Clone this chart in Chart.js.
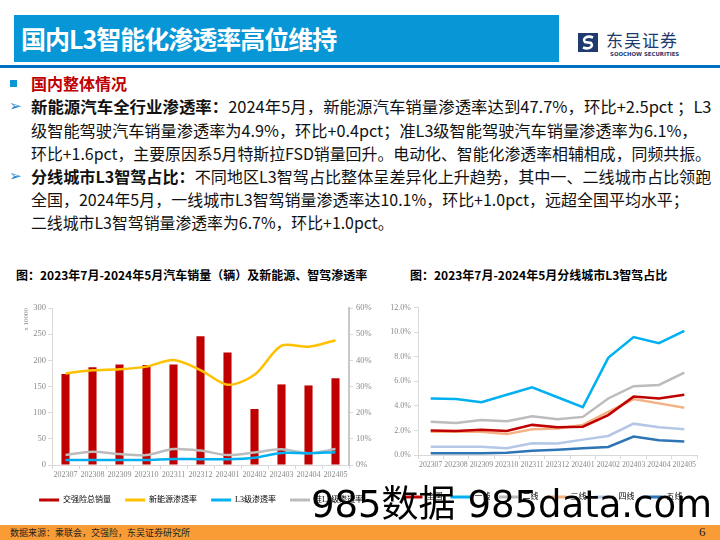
<!DOCTYPE html>
<html lang="zh-CN">
<head>
<meta charset="utf-8">
<script src="https://cdn.jsdelivr.net/npm/chart.js@4.4.1/dist/chart.umd.min.js"></script>
<style>
  html, body { margin: 0; padding: 0; }
  body {
    width: 720px; height: 540px; position: relative; overflow: hidden; background: #fff;
    font-family: "Noto Sans CJK SC", "Noto Sans", sans-serif; color: #111;
  }
  .abs { position: absolute; }
  #titleBar { left: 14px; top: 15px; width: 545px; height: 47px; background: #0796d6; }
  #titleBar span {
    position: absolute; left: 7px; top: 6px; color: #fff; font-size: 25px; line-height: 34px; font-weight: 700;
    letter-spacing: -1px; white-space: nowrap;
  }
  #rule { left: 0; top: 65px; width: 720px; height: 3px; background: #0070c0; }
  #logoText { left: 606px; top: 30px; font-size: 17px; line-height: 20px; color: #1f3a6e; letter-spacing: 1px; white-space: nowrap; }
  #logoSub { left: 610px; top: 51px; font-family: "DejaVu Sans", sans-serif; font-size: 5.4px; line-height: 7px; font-weight: 700; color: #1f3a6e; white-space: nowrap; }
  .line { position: absolute; left: 31px; font-size: 16px; line-height: 23px; white-space: nowrap; transform-origin: 0 50%; }
  .arrow { position: absolute; left: 9px; font-family: "DejaVu Sans", sans-serif; font-size: 15px; line-height: 23px; color: #1e88d0; }
  .ctitle { position: absolute; top: 266px; font-size: 12px; line-height: 17px; font-weight: 700; color: #000; white-space: nowrap; }
  #footer { left: 0; top: 525px; width: 720px; height: 15px; background: #f99c35; }
  #source { left: 10px; top: 526px; font-size: 9px; line-height: 13px; color: #222; white-space: nowrap; }
  #page { left: 699px; top: 524px; font-family: "Liberation Serif", serif; font-size: 13px; line-height: 16px; color: #222; }
  #wm { left: 311px; top: 482px; font-family: "DejaVu Sans", "Noto Sans CJK SC", sans-serif; font-size: 37px; line-height: 46px; color: #000; white-space: nowrap; z-index: 5; }
  canvas { position: absolute; }
</style>
</head>
<body>
<div id="titleBar" class="abs"><span>国内L3智能化渗透率高位维持</span></div>
<svg class="abs" style="left:578px;top:33px" width="20" height="19" viewBox="0 0 20 19">
  <rect width="20" height="19" fill="#1f3a6e"/>
  <path d="M15 4.5 C9 2,4 5.5,7 9 L13 10 C16 13.5,11 17,5 14.5" stroke="#fff" stroke-width="2.6" fill="none"/>
</svg>
<div id="logoText" class="abs">东吴证券</div>
<div id="logoSub" class="abs">SOOCHOW SECURITIES</div>
<div id="rule" class="abs"></div>

<div class="abs" style="left:10px;top:80px;width:7px;height:7px;background:#0796d6"></div>
<div class="line" style="top:72px;color:#c00000;font-weight:700">国内整体情况</div>
<div class="arrow" style="top:95px">➢</div>
<div class="line" data-w="680" style="top:95px"><b>新能源汽车全行业渗透率：</b>2024年5月，新能源汽车销量渗透率达到47.7%，环比+2.5pct ；L3</div>
<div class="line" data-w="666" style="top:119px">级智能驾驶汽车销量渗透率为4.9%，环比+0.4pct；准L3级智能驾驶汽车销量渗透率为6.1%，</div>
<div class="line" data-w="680" style="top:142px">环比+1.6pct，主要原因系5月特斯拉FSD销量回升。电动化、智能化渗透率相辅相成，同频共振。</div>
<div class="arrow" style="top:165px">➢</div>
<div class="line" data-w="680" style="top:165px"><b>分线城市L3智驾占比：</b>不同地区L3智驾占比整体呈差异化上升趋势，其中一、二线城市占比领跑</div>
<div class="line" data-w="658" style="top:188px">全国，2024年5月，一线城市L3智驾销量渗透率达10.1%，环比+1.0pct，远超全国平均水平；</div>
<div class="line" data-w="363" style="top:211px">二线城市L3智驾销量渗透率为6.7%，环比+1.0pct。</div>

<div class="ctitle" style="left:16px">图：2023年7月-2024年5月汽车销量（辆）及新能源、智驾渗透率</div>
<div class="ctitle" style="left:410px">图：2023年7月-2024年5月分线城市L3智驾占比</div>

<canvas id="chartSales" width="402" height="216" style="left:0;top:298px"></canvas>
<canvas id="chartCity" width="316" height="214" style="left:388px;top:297px"></canvas>

<div id="footer" class="abs"></div>
<div id="source" class="abs">数据来源：乘联会，交强险，东吴证券研究所</div>
<div id="page" class="abs">6</div>
<div id="wm" class="abs">985数据 985data.com</div>

<script>
'use strict';

// ── data ────────────────────────────────────────────────────────────────────
const MONTHS    = ['202307','202308','202309','202310','202311','202312','202401','202402','202403','202404','202405'];
const SALES     = [174, 187, 192, 191, 192, 246, 215, 107, 154, 152, 166];        // 万辆
const NEV_RATE  = [35.0, 36.2, 36.6, 37.6, 40.1, 36.3, 30.7, 34.5, 45.6, 45.2, 47.7];
const L3_RATE   = [1.9, 1.9, 1.9, 1.9, 2.3, 2.2, 2.2, 2.8, 4.6, 4.5, 4.9];
const QL3_RATE  = [3.8, 5.1, 4.2, 3.8, 6.1, 5.5, 3.8, 4.8, 6.0, 4.5, 6.1];

const NATION = [2.0, 1.95, 2.05, 1.95, 2.45, 2.25, 2.3, 3.25, 4.75, 4.6, 4.9];
const TIER1  = [4.6, 4.55, 4.3, 4.9, 5.5, 4.7, 3.9, 7.9, 9.6, 9.1, 10.1];
const TIER2  = [2.7, 2.6, 2.85, 2.75, 3.15, 2.9, 3.1, 4.6, 5.6, 5.7, 6.7];
const TIER3  = [1.9, 1.9, 1.9, 1.7, 2.1, 2.15, 2.45, 3.5, 4.55, 4.2, 3.85];
const TIER4  = [0.68, 0.68, 0.68, 0.55, 0.95, 0.93, 1.25, 1.55, 2.55, 2.25, 2.1];
const TIER5  = [0.15, 0.15, 0.15, 0.18, 0.35, 0.43, 0.55, 0.65, 1.5, 1.2, 1.1];

// ── paleta ──────────────────────────────────────────────────────────────────
const C_RED    = '#c00000';
const C_YELLOW = '#ffc000';
const C_BLUE   = '#00b0f0';
const C_GRAY   = '#bcbcbc';
const C_ORANGE = '#f4b183';
const C_LBLUE  = '#b4c7e7';
const C_DBLUE  = '#2e75b6';
const C_TICK   = '#8a8a8a';
const C_AXIS   = '#d9d9d9';

const serif = size => ({ family: '"Liberation Serif", "Noto Sans CJK SC", serif', size });

// fit body lines to the widths seen in the slide
document.querySelectorAll('.line[data-w]').forEach(el => {
    const w = +el.dataset.w;
    el.style.transform = `scaleX(${w / el.scrollWidth})`;
});

function legendOpts(pad, colors) {
    return {
        position: 'bottom',
        labels: {
            boxWidth: 20, boxHeight: 3, padding: pad, color: C_TICK, font: serif(8),
            generateLabels: chart => chart.data.datasets.map((ds, i) => ({
                text: ds.label, fillStyle: colors[i], strokeStyle: colors[i], lineWidth: 0,
                hidden: false, datasetIndex: i,
            })),
        },
    };
}

function fixW(w) { return s => { s.width = w; }; }
function fixH(h) { return s => { s.height = h; }; }

// ── 汽车销量 + 渗透率 ───────────────────────────────────────────────────────
new Chart(document.getElementById('chartSales'), {
    type: 'bar',
    data: {
        labels: MONTHS,
        datasets: [
            { label: '交强险总销量', data: SALES, backgroundColor: C_RED, categoryPercentage: 1, barPercentage: 0.3, order: 2 },
            { label: '新能源渗透率', data: NEV_RATE, type: 'line', yAxisID: 'y1', borderColor: C_YELLOW, borderWidth: 2.5, pointRadius: 0, tension: 0.3, order: 1 },
            { label: 'L3级渗透率', data: L3_RATE, type: 'line', yAxisID: 'y1', borderColor: C_BLUE, borderWidth: 2.5, pointRadius: 0, tension: 0.3, order: 0 },
            { label: '准L3级渗透率', data: QL3_RATE, type: 'line', yAxisID: 'y1', borderColor: C_GRAY, borderWidth: 2.5, pointRadius: 0, tension: 0.3, order: 1 },
        ],
    },
    options: {
        responsive: false,
        animation: false,
        layout: { padding: { top: 10, left: 0, right: 0, bottom: 0 } },
        plugins: {
            legend: legendOpts(14, [C_RED, C_YELLOW, C_BLUE, C_GRAY]),
            tooltip: { enabled: false },
        },
        scales: {
            x: {
                afterFit: fixH(17),
                grid: { drawOnChartArea: false, tickLength: 4, color: C_AXIS },
                border: { color: C_AXIS },
                ticks: { color: C_TICK, font: serif(8), padding: 1, maxRotation: 0, autoSkip: false },
            },
            y: {
                min: 0, max: 300,
                afterFit: fixW(52),
                grid: { drawOnChartArea: false, tickLength: 4, color: C_AXIS },
                border: { color: C_AXIS },
                ticks: { stepSize: 50, color: C_TICK, font: serif(8.5), padding: 2 },
                title: { display: true, text: 'x 10000', align: 'end', color: C_TICK, font: serif(7), padding: { top: 22, bottom: 0 } },
            },
            y1: {
                position: 'right',
                min: 0, max: 60,
                afterFit: fixW(53),
                grid: { drawOnChartArea: false, tickLength: 4, color: C_AXIS },
                border: { color: '#c8c8c8', width: 2 },
                ticks: { stepSize: 10, color: C_TICK, font: serif(8.5), padding: 3, callback: v => v + '%' },
            },
        },
    },
});

// ── 分线城市 L3 智驾占比 ────────────────────────────────────────────────────
const cityColors = [C_RED, C_BLUE, C_GRAY, C_ORANGE, C_LBLUE, C_DBLUE];
const citySeries = [
    ['全国', NATION], ['一线', TIER1], ['二线', TIER2],
    ['三线', TIER3], ['四线', TIER4], ['五线', TIER5],
];

new Chart(document.getElementById('chartCity'), {
    type: 'line',
    data: {
        labels: MONTHS,
        datasets: citySeries.map(([label, data], i) => ({
            label, data, borderColor: cityColors[i], borderWidth: 2.5, pointRadius: 0, tension: 0,
        })),
    },
    options: {
        responsive: false,
        animation: false,
        layout: { padding: { top: 10.5, left: 0, right: 7, bottom: 0 } },
        plugins: {
            legend: legendOpts(8, cityColors),
            tooltip: { enabled: false },
        },
        scales: {
            x: {
                offset: true,
                afterFit: fixH(30),
                grid: { drawOnChartArea: false, offset: true, tickLength: 4, color: C_AXIS },
                border: { color: C_AXIS },
                ticks: { color: C_TICK, font: serif(7.8), padding: 1, maxRotation: 0, autoSkip: false },
            },
            y: {
                min: 0, max: 12,
                afterFit: fixW(30),
                grid: { drawOnChartArea: false, tickLength: 4, color: C_AXIS },
                border: { color: C_AXIS },
                ticks: { stepSize: 2, color: C_TICK, font: serif(8), padding: 3, callback: v => v.toFixed(1) + '%' },
            },
        },
    },
});
</script>
</body>
</html>
